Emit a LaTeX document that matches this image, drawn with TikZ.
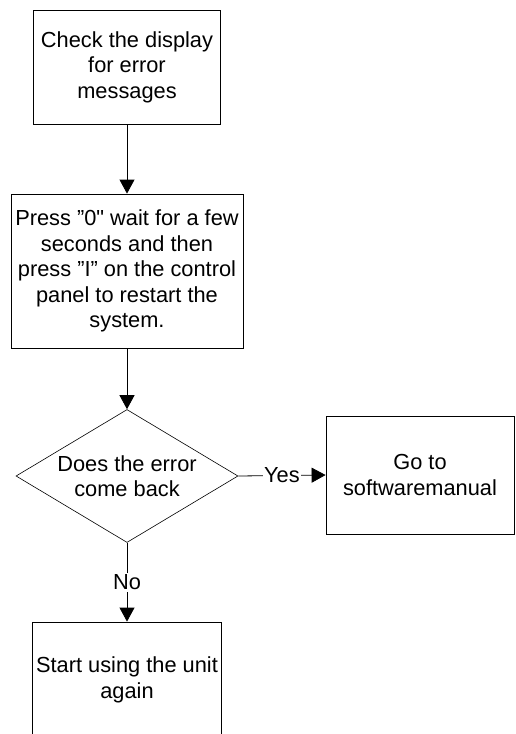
\documentclass[tikz,border=0pt]{standalone}
\usepackage{fontspec}
\setmainfont{Liberation Sans}[Ligatures=TeXOff]
\usetikzlibrary{shapes.geometric}
\usetikzlibrary{arrows.meta}
\tikzstyle{myStep} = [draw,rectangle,line width=0.8pt,align=center,inner sep=0pt]
\tikzstyle{myTest} = [draw,diamond,aspect=1.67,line width=0.6pt,align=center,inner sep=0pt,minimum width=222pt,minimum height=133pt]
\tikzstyle{myArrow} = [line width=0.8pt,-{Triangle[length=14pt,width=15pt]}]

\begin{document}
\begin{tikzpicture}[x=1pt,y=-1pt,font=\fontsize{21.8}{25.5}\selectfont]
			\useasboundingbox (0,0) rectangle (515,734);
			\node[myStep,minimum width=187pt,minimum height=114pt] (n1) at (127,67) {Check the display\\for error\\messages};
			\node[myStep,minimum width=232pt,minimum height=154pt] (n2) at (127,271) {Press ”0" wait for a few\\seconds and then\\press ”I” on the control\\panel to restart the\\system.};
			\node[myTest] (n3) at (127,476) {Does the error\\come back};
			\node[myStep,minimum width=188pt,minimum height=118pt] (n4) at (420,475) {Go to\\softwaremanual};
			\node[myStep,minimum width=189pt,minimum height=116pt] (n5) at (127,680) {Start using the unit\\again};
			\draw[myArrow] (n1.south)--(n2.north);
			\draw[myArrow] (n2.south)--(n3.north);
			\draw[myArrow] (n3.east)--node[fill=white,inner sep=1pt]{Yes}(n4.west);
			\draw[myArrow] (n3.south)--node[fill=white,inner sep=2pt]{No}(n5.north);
		\end{tikzpicture}
\end{document}
